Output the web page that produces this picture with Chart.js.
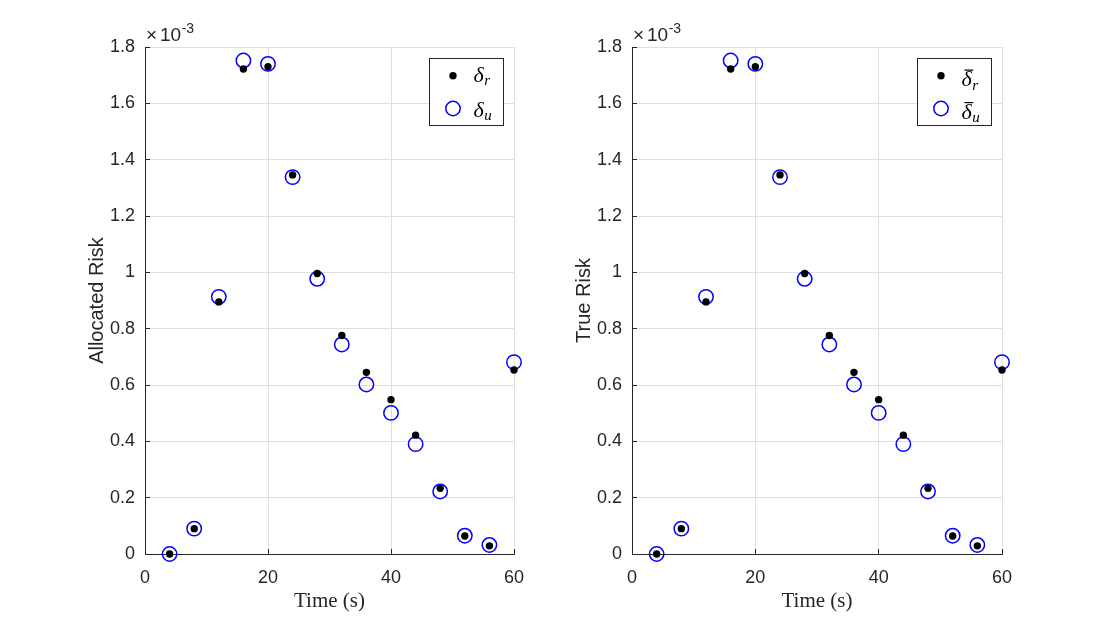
<!DOCTYPE html>
<html>
<head>
<meta charset="utf-8">
<script src="https://cdn.jsdelivr.net/npm/chart.js@4.4.0/dist/chart.umd.min.js"></script>
<style>
  body { margin: 0; background: #fff; }
  #wrap { position: relative; width: 1108px; height: 624px; }
  #wrap canvas { position: absolute; top: 0; }
</style>
</head>
<body>
<div id="wrap">
  <canvas id="allocated" width="554" height="624" style="left:0"></canvas>
  <canvas id="trueRisk" width="554" height="624" style="left:554px"></canvas>
</div>
<script>
// dados (valores em unidades de 1e-3)
const times = [4, 8, 12, 16, 20, 24, 28, 32, 36, 40, 44, 48, 52, 56, 60];
const allocR = [0, 0.09, 0.895, 1.722, 1.730, 1.346, 0.996, 0.776, 0.645, 0.548, 0.422, 0.233, 0.064, 0.029, 0.653];
const allocU = [0, 0.09, 0.913, 1.752, 1.740, 1.338, 0.977, 0.744, 0.602, 0.501, 0.390, 0.222, 0.065, 0.032, 0.681];
const trueR = [0, 0.09, 0.895, 1.722, 1.730, 1.346, 0.996, 0.776, 0.645, 0.548, 0.422, 0.233, 0.064, 0.029, 0.653];
const trueU = [0, 0.09, 0.913, 1.752, 1.740, 1.338, 0.977, 0.744, 0.602, 0.501, 0.390, 0.222, 0.065, 0.032, 0.681];

const xTicks = [0, 20, 40, 60];
const xTickLabels = ['0', '20', '40', '60'];
const yTicks = [0, 0.2, 0.4, 0.6, 0.8, 1, 1.2, 1.4, 1.6, 1.8];
const yTickLabels = ['0', '0.2', '0.4', '0.6', '0.8', '1', '1.2', '1.4', '1.6', '1.8'];
const legendSubs = ['r', 'u'];

const axisColor = '#262626';
const gridColor = '#dfdfdf';
const sans = '"Liberation Sans", Arial, sans-serif';
const serif = '"Liberation Serif", "Times New Roman", serif';

// plugin que desenha títulos, expoente, ticks internos e legenda
const overlay = {
  id: 'overlay',
  afterDraw(chart, args, o) {
    const ctx = chart.ctx, a = chart.chartArea;
    const xs = chart.scales.x, ys = chart.scales.y;
    ctx.save();

    // ticks para dentro (estilo MATLAB)
    ctx.strokeStyle = axisColor;
    ctx.lineWidth = 1;
    ctx.beginPath();
    yTicks.forEach(v => {
      const y = Math.floor(ys.getPixelForValue(v)) + 0.5;
      ctx.moveTo(a.left, y); ctx.lineTo(a.left + 5, y);
    });
    xTicks.forEach(v => {
      const x = Math.floor(xs.getPixelForValue(v)) + 0.5;
      ctx.moveTo(x, a.bottom); ctx.lineTo(x, a.bottom - 5);
    });
    ctx.stroke();

    ctx.fillStyle = axisColor;

    // expoente x10^-3
    ctx.font = '19px ' + sans;
    ctx.textAlign = 'left';
    ctx.textBaseline = 'alphabetic';
    ctx.fillText('\u00d7', a.left + 1, 41);
    ctx.fillText('10', a.left + 15, 41);
    const w10 = ctx.measureText('10').width;
    ctx.font = '14px ' + sans;
    ctx.fillText('-3', a.left + 15 + w10 + 0.5, 32.5);

    // título do eixo y
    ctx.save();
    ctx.font = '20px ' + sans;
    ctx.textAlign = 'center';
    ctx.translate(a.left - 42, (a.top + a.bottom) / 2);
    ctx.rotate(-Math.PI / 2);
    ctx.fillText(o.yTitle, 0, 0);
    ctx.restore();

    // título do eixo x
    ctx.font = '21px ' + serif;
    ctx.textAlign = 'center';
    ctx.fillText('Time (s)', (a.left + a.right) / 2, 606.5);

    // legenda
    const bx = Math.round(a.right - 85.5) + 0.5, by = Math.round(a.top + 11) + 0.5;
    ctx.fillStyle = '#fff';
    ctx.fillRect(bx, by, 74, 67);
    ctx.strokeStyle = axisColor;
    ctx.lineWidth = 1;
    ctx.strokeRect(bx, by, 74, 67);

    const mx = bx + 23.5;
    ctx.fillStyle = '#000';
    ctx.beginPath();
    ctx.arc(mx, a.top + 28.7, 3.7, 0, Math.PI * 2);
    ctx.fill();
    ctx.strokeStyle = '#0000ff';
    ctx.lineWidth = 1.5;
    ctx.beginPath();
    ctx.arc(mx, a.top + 61.5, 7.2, 0, Math.PI * 2);
    ctx.stroke();

    ctx.fillStyle = '#000';
    ctx.textAlign = 'left';
    const tx = bx + 44;
    o.baselines.forEach((b, i) => {
      const base = a.top + b;
      ctx.font = 'italic 22px ' + serif;
      ctx.fillText('\u03b4', tx, base);
      const dw = ctx.measureText('\u03b4').width;
      if (o.bar) {
        ctx.fillRect(tx + 3, base - 16.5, dw - 1.5, 1.2);
      }
      ctx.font = 'italic 15px ' + serif;
      ctx.fillText(legendSubs[i], tx + dw + 0.5, base + 3.5);
    });

    ctx.restore();
  }
};

function makeChart(id, rData, uData, padLeft, padRight, yTitle, bar, baselines) {
  const ctx = document.getElementById(id).getContext('2d');
  return new Chart(ctx, {
    type: 'scatter',
    data: {
      datasets: [
        {
          data: times.map((t, i) => ({ x: t, y: rData[i] })),
          pointRadius: 3.7,
          pointBackgroundColor: '#000',
          pointBorderWidth: 0,
          pointBorderColor: '#000',
          clip: false
        },
        {
          data: times.map((t, i) => ({ x: t, y: uData[i] })),
          pointRadius: 7.2,
          pointBackgroundColor: 'rgba(0,0,0,0)',
          pointBorderColor: '#0000ff',
          pointBorderWidth: 1.5,
          clip: false
        }
      ]
    },
    options: {
      responsive: false,
      animation: false,
      events: [],
      layout: { padding: { left: padLeft, right: padRight, top: 47, bottom: 30 } },
      plugins: {
        legend: { display: false },
        tooltip: { enabled: false },
        overlay: { yTitle: yTitle, bar: bar, baselines: baselines }
      },
      scales: {
        x: {
          type: 'linear',
          min: 0, max: 60,
          afterBuildTicks: s => { s.ticks = xTicks.map(v => ({ value: v })); },
          afterFit: s => { s.height = 40; },
          ticks: {
            color: axisColor,
            font: { family: sans, size: 18 },
            padding: 13,
            maxRotation: 0,
            callback: v => xTickLabels[xTicks.indexOf(v)]
          },
          grid: { color: gridColor, drawTicks: false },
          border: { color: axisColor, width: 1 }
        },
        y: {
          min: 0, max: 1.8,
          afterBuildTicks: s => { s.ticks = yTicks.map(v => ({ value: v })); },
          afterFit: s => { s.width = 60; },
          ticks: {
            color: axisColor,
            font: { family: sans, size: 18 },
            padding: 10,
            callback: v => yTickLabels[yTicks.indexOf(v)]
          },
          grid: { color: gridColor, drawTicks: false },
          border: { color: axisColor, width: 1 }
        }
      }
    },
    plugins: [overlay]
  });
}

makeChart('allocated', allocR, allocU, 85, 40, 'Allocated Risk', false, [34.5, 69.5]);
makeChart('trueRisk', trueR, trueU, 18, 106, 'True Risk', true, [39, 71.5]);
</script>
</body>
</html>
